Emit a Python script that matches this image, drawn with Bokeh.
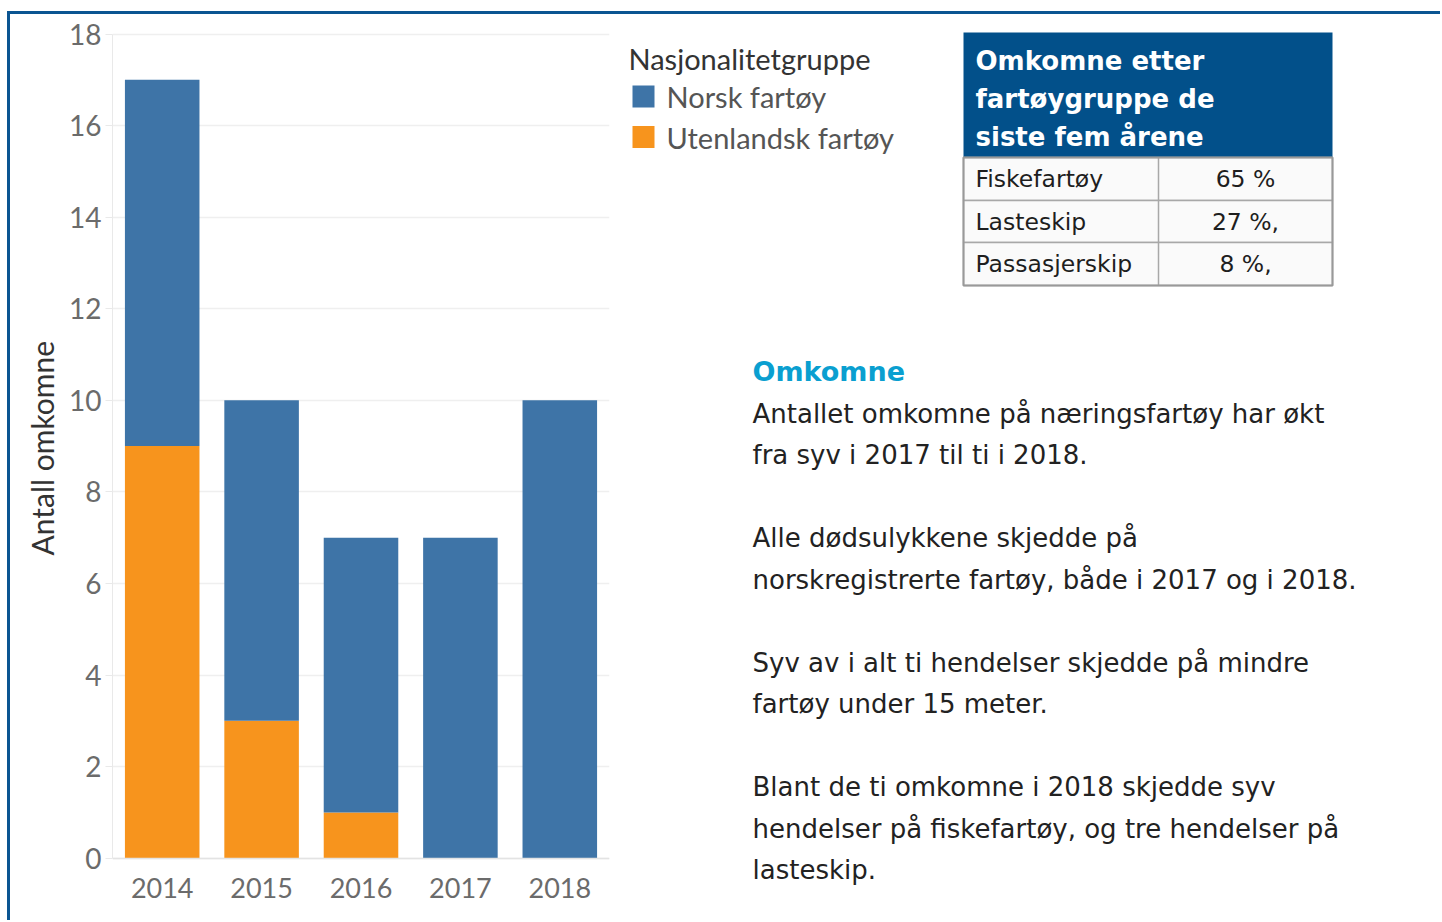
from bokeh.plotting import figure
from bokeh.layouts import row, column
from bokeh.models import Range1d, FactorRange, Spacer, ColumnDataSource, FixedTicker, Title
from bokeh.embed import file_html
from bokeh.resources import INLINE
from bokeh.core.properties import value

# ---------------- data ----------------
years = ["2014", "2015", "2016", "2017", "2018"]
norsk = [8, 7, 6, 7, 10]
utenlandsk = [9, 3, 1, 0, 0]
series_names = ["Norsk fartøy", "Utenlandsk fartøy"]
series_colors = ["#3e74a7", "#f7941d"]
y_ticks = [0, 2, 4, 6, 8, 10, 12, 14, 16, 18]
y_label = "Antall omkomne"
legend_title = "Nasjonalitetgruppe"

table_title = ["Omkomne etter", "fartøygruppe de", " siste fem årene"]
table_groups = ["Fiskefartøy", "Lasteskip", "Passasjerskip"]
table_shares = ["65 %", "27 %,", "8 %,"]

text_heading = "Omkomne"
text_lines = [
    "Antallet omkomne på næringsfartøy har økt",
    "fra syv i 2017 til ti i 2018.",
    "",
    "Alle dødsulykkene skjedde på",
    "norskregistrerte fartøy, både i 2017 og i 2018.",
    "",
    "Syv av i alt ti hendelser skjedde på mindre",
    "fartøy under 15 meter.",
    "",
    "Blant de ti omkomne i 2018 skjedde syv",
    "hendelser på fiskefartøy, og tre hendelser på",
    "lasteskip.",
]

CHART_FONT = "Lato"
TEXT_FONT = "DejaVu Sans"
FRAME_BLUE = "#0b5592"

# ---------------- geometry (page pixels) ----------------
TOP, BOTTOM = 14, 920          # vertical extent of both figures
P_LEFT, P_RIGHT = 10, 615      # bar figure
FRAME_L, FRAME_R = 112, 609    # bar plot area
Y_MAX_PX, Y_ZERO_PX = 33.5, 857.7
px_per_unit = (Y_ZERO_PX - Y_MAX_PX) / 18.0
y_start = -(BOTTOM - Y_ZERO_PX) / px_per_unit
y_end = (Y_ZERO_PX - TOP) / px_per_unit
Y_TITLE_BOTTOM = 555           # lower end of the rotated y title

# ---------------- bar chart ----------------
src = ColumnDataSource(dict(year=years, norsk=norsk, utenlandsk=utenlandsk))
p = figure(x_range=FactorRange(*years), y_range=Range1d(y_start, y_end),
           width=P_RIGHT - P_LEFT, height=BOTTOM - TOP, output_backend="svg",
           toolbar_location=None, min_border_left=FRAME_L - P_LEFT,
           min_border_right=P_RIGHT - FRAME_R, min_border_top=0,
           min_border_bottom=0)
p.vbar_stack(["utenlandsk", "norsk"], x="year", width=0.75,
             color=[series_colors[1], series_colors[0]], line_color=None,
             source=src)
p.outline_line_color = None
p.xgrid.grid_line_color = None
p.ygrid.grid_line_color = "#efefef"
p.ygrid.grid_line_width = 1.5
p.yaxis.ticker = FixedTicker(ticks=y_ticks)
p.yaxis.bounds = (0, 18)
p.yaxis.axis_line_color = "#e9e9e9"
p.yaxis.major_tick_line_color = "#e9e9e9"
p.yaxis.major_tick_out = 7
p.yaxis.major_tick_in = 0
p.yaxis.minor_tick_line_color = None
p.yaxis.major_label_standoff = 4
p.yaxis.major_label_text_font = CHART_FONT
p.yaxis.major_label_text_font_size = "28px"
p.yaxis.major_label_text_color = "#6b6b6b"
p.add_layout(Title(text=y_label, align="left", offset=BOTTOM - Y_TITLE_BOTTOM,
                   text_font=CHART_FONT, text_font_size="30px",
                   text_font_style="normal", text_color="#333333",
                   standoff=14), "left")
p.xaxis.fixed_location = 0
p.xaxis.axis_line_color = "#e3e3e3"
p.xaxis.axis_line_width = 1.5
p.xaxis.major_tick_line_color = None
p.xaxis.major_label_standoff = 14
p.xaxis.major_label_text_font = CHART_FONT
p.xaxis.major_label_text_font_size = "27px"
p.xaxis.major_label_text_color = "#6b6b6b"

# ---------------- right panel (legend, table, text) ----------------
X0, X1 = P_RIGHT, 1440
q = figure(x_range=Range1d(X0, X1), y_range=Range1d(BOTTOM, TOP),
           width=X1 - X0, height=BOTTOM - TOP, output_backend="svg",
           toolbar_location=None, min_border=0)
q.axis.visible = False
q.grid.visible = False
q.outline_line_color = None

CF = value(CHART_FONT)
TF = value(TEXT_FONT)

# legend
q.text(x=[628], y=[58], text=[legend_title], text_font=CF,
       text_font_size="29px", text_color="#333333", text_baseline="middle")
leg_y = [96, 136.5]
q.rect(x=[643, 643], y=leg_y, width=22, height=22, fill_color=series_colors,
       line_color=None)
q.text(x=[666, 666], y=leg_y, text=series_names, text_font=CF,
       text_font_size="29px", text_color="#555555", text_baseline="middle")

# table
TL, TR, TM = 963, 1332, 1158
row_edges = [157, 200, 242, 285]
q.quad(left=[TL], right=[TR], top=[32], bottom=[157], fill_color="#02508a",
       line_color=None)
q.text(x=[975] * 3, y=[60, 98, 136], text=table_title, text_font=TF,
       text_font_size="26px", text_font_style="bold", text_color="white",
       text_baseline="middle")
q.quad(left=[TL] * 3, right=[TR] * 3, top=row_edges[:3], bottom=row_edges[1:],
       fill_color="#fafafa", line_color="#a8a8a8", line_width=1.5)
q.segment(x0=[TM], x1=[TM], y0=[157], y1=[285], line_color="#a8a8a8",
          line_width=1.5)
q.quad(left=[TL], right=[TR], top=[157], bottom=[285], fill_color=None,
       line_color="#999999", line_width=2)
row_mid = [(row_edges[i] + row_edges[i + 1]) / 2 for i in range(3)]
q.text(x=[975] * 3, y=row_mid, text=table_groups, text_font=TF,
       text_font_size="23.5px", text_color="#1e1e1e", text_baseline="middle")
q.text(x=[(TM + TR) / 2] * 3, y=row_mid, text=table_shares, text_font=TF,
       text_font_size="23.5px", text_color="#1e1e1e", text_baseline="middle",
       text_align="center")

# body text
q.text(x=[752], y=[371], text=[text_heading], text_font=TF,
       text_font_size="27px", text_font_style="bold", text_color="#0a9fd0",
       text_baseline="middle")
line_y = [413 + 41.5 * i for i in range(len(text_lines))]
bx, by, bt = [], [], []
for yy, t in zip(line_y, text_lines):
    if t:
        bx.append(752)
        by.append(yy)
        bt.append(t)
q.text(x=bx, y=by, text=bt, text_font=TF, text_font_size="26px",
       text_color="#222222", text_baseline="middle")

# ---------------- frame lines & layout ----------------
left_line = Spacer(width=3, height=BOTTOM - 11,
                   styles={"background-color": FRAME_BLUE})
top_line = Spacer(width=X1 - P_LEFT, height=3,
                  styles={"background-color": FRAME_BLUE})
layout = column(Spacer(width=X1, height=11),
                row(Spacer(width=7, height=BOTTOM - 11), left_line,
                    column(top_line, row(p, q))))

open("out.html", "w").write(file_html(layout, INLINE))
